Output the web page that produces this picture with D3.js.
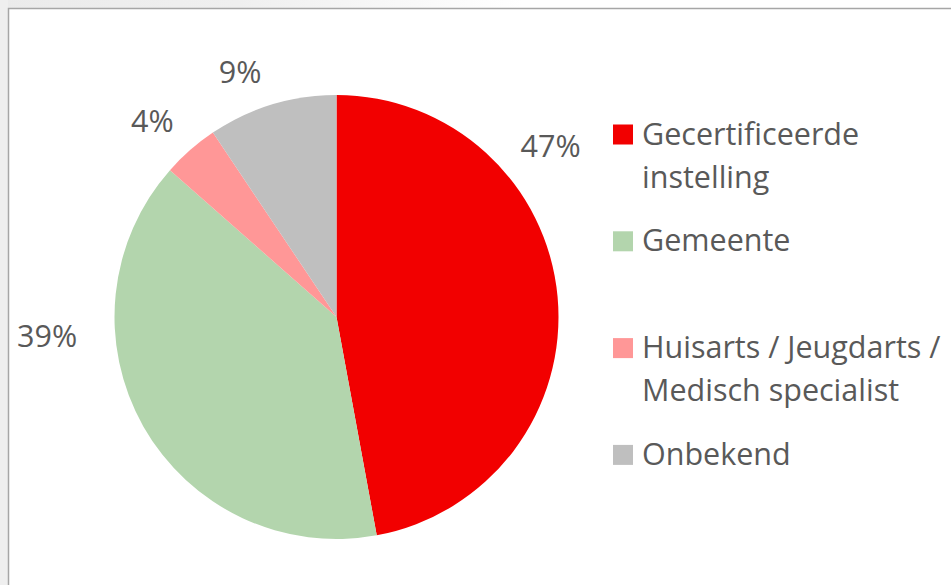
<!DOCTYPE html>
<html>
<head>
<meta charset="utf-8">
<script src="https://cdn.jsdelivr.net/npm/d3@7"></script>
<style>
  body { margin: 0; background: #ffffff; }
  svg { display: block; }
</style>
</head>
<body>
<svg id="chart"></svg>
<script>
// data
var categories = ["Gecertificeerde instelling", "Gemeente", "Huisarts / Jeugdarts / Medisch specialist", "Onbekend"];
var values = [47.1, 39.4, 4.1, 9.4];
var colors = ["#f20000", "#b3d5ad", "#ff9797", "#bfbfbf"];
// legend lines as they wrap in the original
var legendLines = [["Gecertificeerde", "instelling"], ["Gemeente"], ["Huisarts / Jeugdarts /", "Medisch specialist"], ["Onbekend"]];

var svgWidth = 951, svgHeight = 585;
var cx = 336.5, cy = 317, radius = 222;
var textColor = "#595959", fontSize = 30.5;
var fontFamily = "'Open Sans', sans-serif";

// label placement (degrees clockwise from top, distance from centre) - Excel moved some labels
var labelPlace = [[51.4, 274], [266.3, 290], [316.8, 269], [338.5, 263]];

var svg = d3.select("#chart")
    .attr("width", svgWidth)
    .attr("height", svgHeight);

// grey area outside the chart frame
var grad = svg.append("defs").append("linearGradient")
    .attr("id", "topFade").attr("x1", 0).attr("x2", 1).attr("y1", 0).attr("y2", 0);
grad.append("stop").attr("offset", "0%").attr("stop-color", "#ebebeb");
grad.append("stop").attr("offset", "25%").attr("stop-color", "#efefef");
grad.append("stop").attr("offset", "55%").attr("stop-color", "#ffffff");
svg.append("rect").attr("x", 0).attr("y", 0).attr("width", svgWidth).attr("height", 8)
    .attr("fill", "url(#topFade)");
svg.append("rect").attr("x", 0).attr("y", 0).attr("width", 8).attr("height", svgHeight)
    .attr("fill", "#efefef");

// chart frame (only top and left edges show)
svg.append("rect")
    .attr("x", 8.5).attr("y", 8.5)
    .attr("width", svgWidth + 20).attr("height", svgHeight + 20)
    .attr("fill", "#ffffff")
    .attr("stroke", "#a6a6a6")
    .attr("stroke-width", 1.5);

var pie = d3.pie().sort(null).value(function (d) { return d; });
var arcs = pie(values);
var arc = d3.arc().innerRadius(0).outerRadius(radius);

var g = svg.append("g").attr("transform", "translate(" + cx + "," + cy + ")");

g.selectAll("path")
    .data(arcs)
    .enter()
    .append("path")
    .attr("d", arc)
    .attr("fill", function (d, i) { return colors[i]; });

// percentage labels
g.selectAll("text.pct")
    .data(arcs)
    .enter()
    .append("text")
    .attr("class", "pct")
    .attr("transform", function (d, i) {
        var p = d3.pointRadial(labelPlace[i][0] * Math.PI / 180, labelPlace[i][1]);
        return "translate(" + p + ")";
    })
    .attr("dy", "0.36em")
    .attr("text-anchor", "middle")
    .attr("font-family", fontFamily)
    .attr("font-size", fontSize)
    .attr("fill", textColor)
    .text(function (d) { return Math.round(d.data) + "%"; });

// legend
var legendX = 613, legendTop = 144.5, legendStep = 106.8, lineHeight = 43, box = 20;
var legend = svg.selectAll("g.legend")
    .data(categories)
    .enter()
    .append("g")
    .attr("class", "legend")
    .attr("transform", function (d, i) {
        return "translate(" + legendX + "," + (legendTop + legendStep * i) + ")";
    });

legend.append("rect")
    .attr("x", 0).attr("y", -box)
    .attr("width", box).attr("height", box)
    .attr("fill", function (d, i) { return colors[i]; });

legend.append("text")
    .attr("x", 29)
    .attr("font-family", fontFamily)
    .attr("font-size", fontSize)
    .attr("fill", textColor)
    .selectAll("tspan")
    .data(function (d, i) { return legendLines[i]; })
    .enter()
    .append("tspan")
    .attr("x", 29)
    .attr("y", function (d, j) { return j * lineHeight; })
    .text(function (d) { return d; });
</script>
</body>
</html>
